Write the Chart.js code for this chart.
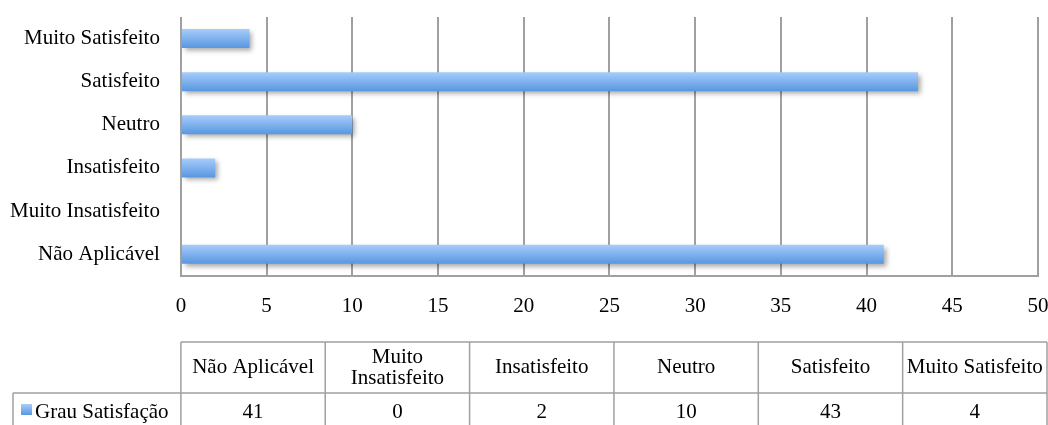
<!DOCTYPE html>
<html>
<head>
<meta charset="utf-8">
<script src="https://cdn.jsdelivr.net/npm/chart.js@4"></script>
<style>
    html, body { margin: 0; padding: 0; background: #fff; }
    #wrap { width: 1048px; height: 425px; }
</style>
</head>
<body>
<div id="wrap"><canvas id="chart"></canvas></div>
<script>
// Data (table order, first item is the bottom bar)
const categories = ['Não Aplicável', 'Muito Insatisfeito', 'Insatisfeito', 'Neutro', 'Satisfeito', 'Muito Satisfeito'];
const seriesName = 'Grau Satisfação';
const seriesValues = [41, 0, 2, 10, 43, 4];
const xTicks = [0, 5, 10, 15, 20, 25, 30, 35, 40, 45, 50];

const FONT = 'Liberation Serif, Times New Roman, serif';
const FSIZE = 21;
const GRID = '#a0a0a0';

function barGradient(ctx, top, bottom) {
    const g = ctx.createLinearGradient(0, top, 0, bottom);
    g.addColorStop(0, '#a7ccfb');
    g.addColorStop(1, '#5897e0');
    return g;
}

// drop shadow under the bars
const shadowPlugin = {
    id: 'barShadow',
    beforeDatasetsDraw(chart) {
        const ctx = chart.ctx;
        ctx.save();
        ctx.shadowColor = 'rgba(0,0,0,0.35)';
        ctx.shadowBlur = 5;
        ctx.shadowOffsetX = 3;
        ctx.shadowOffsetY = 3;
    },
    afterDatasetsDraw(chart) {
        chart.ctx.restore();
    }
};

// data table under the chart
const tablePlugin = {
    id: 'dataTable',
    afterDraw(chart) {
        const ctx = chart.ctx;
        const left = chart.chartArea.left;
        const right = chart.width - 1;
        const colW = (right - left) / categories.length;
        const top = 342, mid = 393, bottom = 440;
        const keyLeft = 13;

        ctx.save();
        ctx.strokeStyle = GRID;
        ctx.lineWidth = 1.5;
        ctx.beginPath();
        ctx.moveTo(left, top); ctx.lineTo(right, top);
        ctx.moveTo(keyLeft, mid); ctx.lineTo(right, mid);
        ctx.moveTo(keyLeft, mid); ctx.lineTo(keyLeft, bottom);
        for (let i = 0; i <= categories.length; i++) {
            const x = left + i * colW;
            ctx.moveTo(x, top); ctx.lineTo(x, bottom);
        }
        ctx.stroke();

        ctx.fillStyle = '#000';
        ctx.font = FSIZE + 'px ' + FONT;
        ctx.textAlign = 'center';
        ctx.textBaseline = 'middle';

        categories.forEach((label, i) => {
            const cx = left + (i + 0.5) * colW;
            // wrap header text if it doesn't fit
            const words = label.split(' ');
            const lines = [];
            let line = '';
            words.forEach(w => {
                const test = line ? line + ' ' + w : w;
                if (ctx.measureText(test).width > colW - 4 && line) {
                    lines.push(line);
                    line = w;
                } else {
                    line = test;
                }
            });
            lines.push(line);
            const lh = 21;
            const cy = (top + mid) / 2;
            lines.forEach((l, j) => {
                ctx.fillText(l, cx, cy + (j - (lines.length - 1) / 2) * lh);
            });
            ctx.fillText(String(seriesValues[i]), cx, 412);
        });

        // legend key
        const kx = 21, ky = 404, ks = 11;
        ctx.fillStyle = barGradient(ctx, ky, ky + ks);
        ctx.fillRect(kx, ky, ks, ks);
        ctx.fillStyle = '#000';
        ctx.textAlign = 'left';
        ctx.fillText(seriesName, kx + ks + 3, 412);
        ctx.restore();
    }
};

const chart = new Chart(document.getElementById('chart'), {
    type: 'bar',
    data: {
        labels: categories,
        datasets: [{
            label: seriesName,
            data: seriesValues,
            barPercentage: 0.44,
            categoryPercentage: 1,
            borderWidth: 0,
            backgroundColor: (c) => {
                const y = c.chart.scales.y;
                if (!y || !c.chart.chartArea) return '#7fb2ee';
                const h = (y.getPixelForValue(1) - y.getPixelForValue(0));
                const half = Math.abs(h) * 0.22;
                const cy = y.getPixelForValue(c.dataIndex);
                return barGradient(c.chart.ctx, cy - half, cy + half);
            }
        }]
    },
    options: {
        indexAxis: 'y',
        responsive: true,
        maintainAspectRatio: false,
        animation: false,
        layout: { padding: { top: 17, right: 10, left: -11, bottom: 88 } },
        plugins: {
            legend: { display: false },
            tooltip: { enabled: false }
        },
        scales: {
            x: {
                min: 0,
                max: 50,
                afterBuildTicks: (axis) => { axis.ticks = xTicks.map(v => ({ value: v })); },
                afterFit: (axis) => { axis.paddingLeft = 0; axis.paddingRight = 0; },
                grid: { color: GRID, lineWidth: 2, drawTicks: false },
                border: { display: true, color: GRID, width: 2 },
                ticks: {
                    color: '#000',
                    padding: 18,
                    font: { family: FONT, size: FSIZE }
                }
            },
            y: {
                reverse: true,
                afterFit: (axis) => { axis.paddingTop = 0; axis.paddingBottom = 0; },
                grid: { display: false, drawTicks: false },
                border: { display: false },
                ticks: {
                    color: '#000',
                    padding: 21,
                    font: { family: FONT, size: FSIZE }
                }
            }
        }
    },
    plugins: [shadowPlugin, tablePlugin]
});
</script>
</body>
</html>
